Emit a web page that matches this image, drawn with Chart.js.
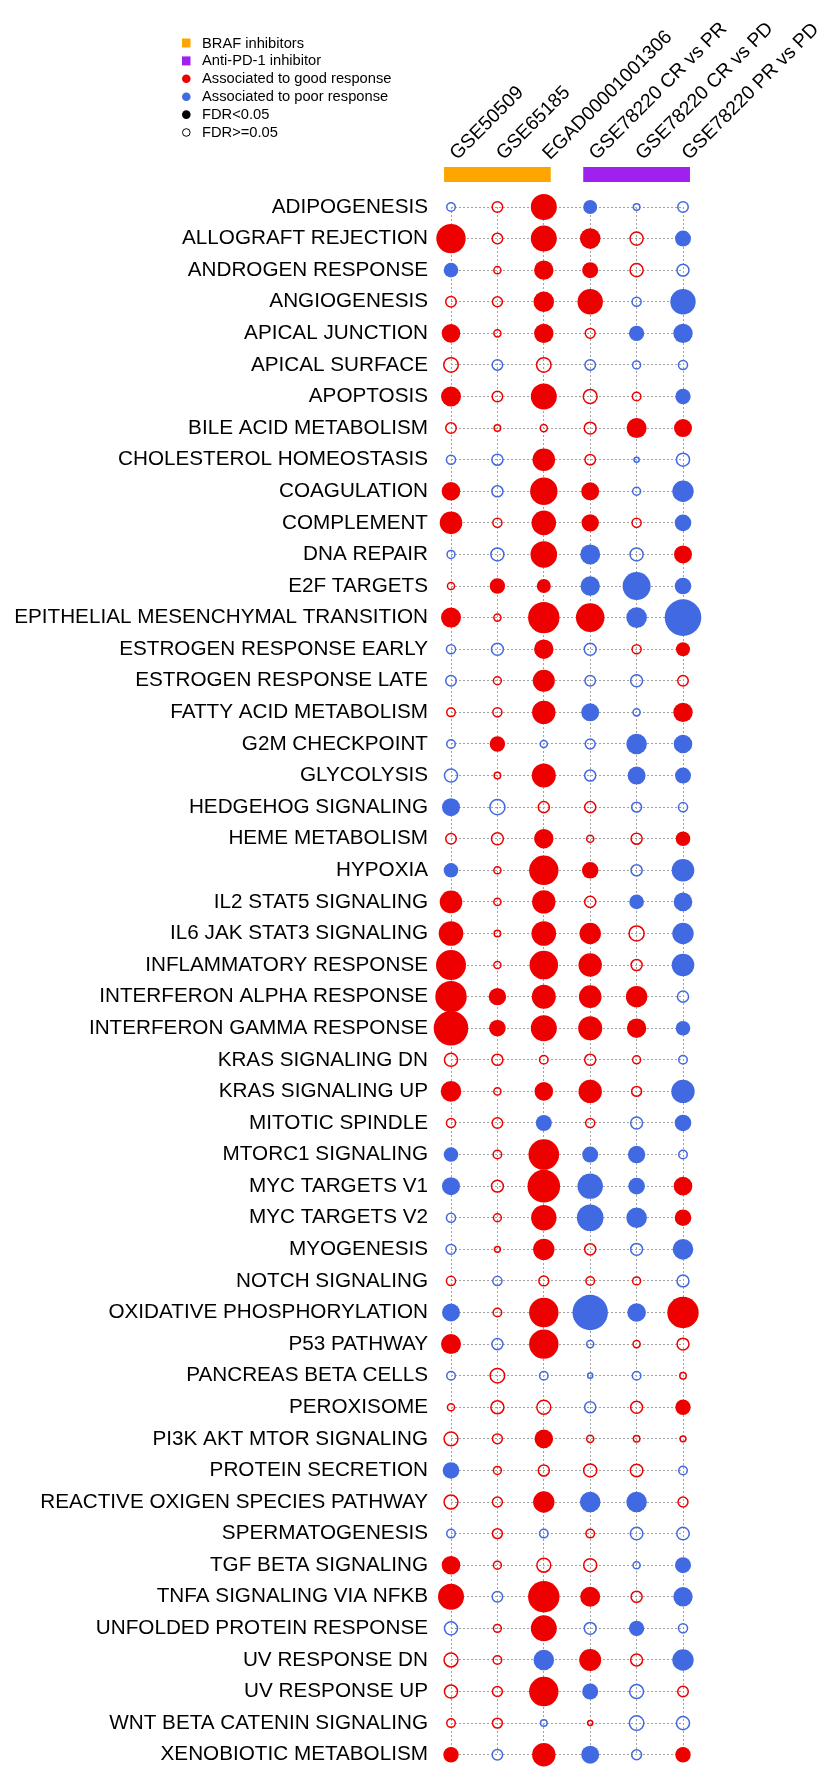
<!DOCTYPE html>
<html>
<head>
<meta charset="utf-8">
<script src="https://cdn.jsdelivr.net/npm/chart.js@4.4.0/dist/chart.umd.min.js"></script>
<style>
html, body { margin: 0; padding: 0; background: #fff; }
#wrap { width: 829px; height: 1773px; }
</style>
</head>
<body>
<div id="wrap"><canvas id="chartHallmarks" width="829" height="1773"></canvas></div>
<script>
var pathways = ['ADIPOGENESIS', 'ALLOGRAFT REJECTION', 'ANDROGEN RESPONSE', 'ANGIOGENESIS', 'APICAL JUNCTION',
  'APICAL SURFACE', 'APOPTOSIS', 'BILE ACID METABOLISM', 'CHOLESTEROL HOMEOSTASIS', 'COAGULATION',
  'COMPLEMENT', 'DNA REPAIR', 'E2F TARGETS', 'EPITHELIAL MESENCHYMAL TRANSITION', 'ESTROGEN RESPONSE EARLY',
  'ESTROGEN RESPONSE LATE', 'FATTY ACID METABOLISM', 'G2M CHECKPOINT', 'GLYCOLYSIS', 'HEDGEHOG SIGNALING',
  'HEME METABOLISM', 'HYPOXIA', 'IL2 STAT5 SIGNALING', 'IL6 JAK STAT3 SIGNALING', 'INFLAMMATORY RESPONSE',
  'INTERFERON ALPHA RESPONSE', 'INTERFERON GAMMA RESPONSE', 'KRAS SIGNALING DN', 'KRAS SIGNALING UP', 'MITOTIC SPINDLE',
  'MTORC1 SIGNALING', 'MYC TARGETS V1', 'MYC TARGETS V2', 'MYOGENESIS', 'NOTCH SIGNALING',
  'OXIDATIVE PHOSPHORYLATION', 'P53 PATHWAY', 'PANCREAS BETA CELLS', 'PEROXISOME', 'PI3K AKT MTOR SIGNALING',
  'PROTEIN SECRETION', 'REACTIVE OXIGEN SPECIES PATHWAY', 'SPERMATOGENESIS', 'TGF BETA SIGNALING', 'TNFA SIGNALING VIA NFKB',
  'UNFOLDED PROTEIN RESPONSE', 'UV RESPONSE DN', 'UV RESPONSE UP', 'WNT BETA CATENIN SIGNALING', 'XENOBIOTIC METABOLISM'];

var cohorts = ['GSE50509', 'GSE65185', 'EGAD00001001306', 'GSE78220 CR vs PR', 'GSE78220 CR vs PD', 'GSE78220 PR vs PD'];

// enrichment score per pathway, > 0 good response, < 0 poor response
var gse50509 = [-5, 14.7, -7.3, 6, 9.3, 8, 10, 6, -5.3, 9.3,
  11.3, -4.7, 4.3, 10, -5.3, -6, 5, -5, -7.3, -9,
  6, -7.3, 11.3, 12.3, 15, 15.7, 17.3, 7.3, 10.3, 5.3,
  -7.3, -9, -5.3, -5.7, 5.3, -9, 10, -5, 4.3, 7.7,
  -8.3, 7.7, -5, 9.3, 13, -7.3, 7.7, 7.3, 5, 7.7];
var gse65185 = [6, 6, 4.3, 5.7, 4.3, -6, 6, 4, -6.3, -6.3,
  5.3, -7.3, 7.7, 4.3, -6.7, 4.7, 5.3, 7.7, 4, -8.3,
  6.7, 4.3, 4.3, 4, 4.3, 8.7, 8.3, 6.3, 4.3, 6,
  5, 6.7, 4.7, 3.7, -5.3, 5, -6.3, 8, 7.3, 5.7,
  4.7, 5.7, 5.7, 4.7, -6, 4.7, 5, 5.7, 5.7, -6];
var egad = [13, 13, 9.7, 10.3, 9.7, 8, 13, 4.3, 11.3, 13.7,
  12.3, 13.3, 7, 15.7, 9.7, 11, 11.7, -4.3, 12, 6.3,
  9.7, 14.7, 11.7, 12.3, 14.3, 12, 13, 5, 9.3, -8,
  15.3, 16.3, 12.7, 10.7, 5.7, 14.7, 14.7, -5, 7.7, 9.3,
  6.3, 10.7, -5, 7.7, 15.7, 13, -10.3, 14.7, -4, 11.7];
var crVsPr = [-7, 10.3, 8, 12.7, 5.7, -6, 7.7, 6.7, 6, 9,
  8.7, -10, -9.7, 14.3, -6.7, -6, -9, -5.7, -6.3, 6.3,
  4.3, 8.3, 6.3, 10.7, 11.7, 11.3, 12, 6.3, 11.7, 5.3,
  -8, -12.7, -13.3, 6.3, 5, -17.7, -4.3, -3.3, -6.3, 4.3,
  7.3, -10.3, 5, 7.3, 10, -6.7, 11, -8, 3.3, -9];
var crVsPd = [-4, 7.3, 7.3, -5.3, -7.7, -4.7, 5, 10, -3.3, -4.7,
  5.3, -7.3, -14, -10.3, 5.3, -6.7, -4.3, -10.3, -9, -5.7,
  6.3, -6.3, -7.3, 8.3, 6.3, 10.7, 9.7, 4.7, 5.7, -6.7,
  -8.7, -8.3, -10.3, -6.7, 4.7, -9.3, 4.3, -5, 6.7, 4,
  7, -10.3, -7, -4.3, 6.3, -7.7, 6.7, -7.7, -8, -5.7];
var prVsPd = [-6, -8, -6.7, -12.7, -9.7, -5.3, -7.7, 9, -7.3, -10.7,
  -8.3, 9, -8.3, -18.3, 7, 6, 9.7, -9.3, -8, -5.3,
  7.3, -11.3, -9.3, -10.7, -11.3, -6.3, -7.3, -5, -11.7, -8.3,
  -5, 9.3, 8.3, -10.3, -6.7, 15.7, 6.7, 4, 7.7, 3.7,
  -5, 5.7, -7, -8, -9.7, -5.3, -10.7, 6, -7.3, 7.7];

// 1 = FDR<0.05, 0 = FDR>=0.05
var fdr50509 = '0110101001' + '1001000001' + '0111111010' + '1100011000' + '1001100001';
var fdr65185 = '0000000000' + '0010000100' + '0000011000' + '0000000000' + '0000000000';
var fdrEgad  = '1111101011' + '1111111010' + '1111111011' + '1111011001' + '0100111101';
var fdrCrPr  = '1111000001' + '1111001000' + '0101111010' + '1110010000' + '0100101101';
var fdrCrPd  = '0000100100' + '0011000110' + '0010011000' + '1110010000' + '0100010000';
var fdrPrPd  = '0101101101' + '1111101110' + '1111101011' + '0111010010' + '0001101001';

var treatments = ['BRAF inhibitors', 'Anti-PD-1 inhibitor'];
var treatmentFirst = [0, 3];
var treatmentLast = [2, 5];

var RED = '#ee0000', BLUE = '#4169e1';
var treatmentColors = ['#ffa500', '#a020f0'];
var FONT = "'Liberation Sans', Arial, sans-serif";

var scoreCols = [gse50509, gse65185, egad, crVsPr, crVsPd, prVsPd];
var fdrCols = [fdr50509, fdr65185, fdrEgad, fdrCrPr, fdrCrPd, fdrPrPd];

var points = [];
scoreCols.forEach(function (col, j) {
  col.forEach(function (v, i) {
    var sig = fdrCols[j].charAt(i) === '1';
    points.push({ x: cohorts[j], y: pathways[i], r: sig ? Math.abs(v) : Math.abs(v) - 0.75, v: v, sig: sig });
  });
});

// orange / purple bars above the columns
var treatmentBars = {
  id: 'treatmentBars',
  afterDraw: function (chart) {
    var c = chart.ctx, xs = chart.scales.x, top = chart.chartArea.top;
    var half = 0.15 * (xs.getPixelForValue(1) - xs.getPixelForValue(0));
    c.save();
    treatments.forEach(function (t, k) {
      var x0 = xs.getPixelForValue(treatmentFirst[k]) - half;
      var x1 = xs.getPixelForValue(treatmentLast[k]) + half;
      c.fillStyle = treatmentColors[k];
      c.fillRect(x0, top - 40, x1 - x0, 15);
    });
    c.restore();
  }
};

var legendBox = {
  id: 'legendBox',
  afterDraw: function (chart) {
    var c = chart.ctx;
    var items = [
      { text: treatments[0], kind: 'sq', color: treatmentColors[0] },
      { text: treatments[1], kind: 'sq', color: treatmentColors[1] },
      { text: 'Associated to good response', kind: 'dot', color: RED },
      { text: 'Associated to poor response', kind: 'dot', color: BLUE },
      { text: 'FDR<0.05', kind: 'dot', color: '#000' },
      { text: 'FDR>=0.05', kind: 'ring', color: '#000' }
    ];
    c.save();
    c.font = '14.7px ' + FONT;
    c.textBaseline = 'middle';
    items.forEach(function (it, k) {
      var y = 43 + k * 17.9;
      if (it.kind === 'sq') {
        c.fillStyle = it.color;
        c.fillRect(182, y - 4.5, 8.5, 9);
      } else {
        c.beginPath();
        c.arc(186.3, y, it.kind === 'ring' ? 3.8 : 4.3, 0, Math.PI * 2);
        if (it.kind === 'ring') { c.strokeStyle = it.color; c.lineWidth = 1; c.stroke(); }
        else { c.fillStyle = it.color; c.fill(); }
      }
      c.fillStyle = '#000';
      c.fillText(it.text, 202, y + 0.5);
    });
    c.restore();
  }
};

var ctx = document.getElementById('chartHallmarks').getContext('2d');
var chartHallmarks = new Chart(ctx, {
  type: 'bubble',
  data: {
    datasets: [{
      data: points,
      clip: false,
      backgroundColor: function (c) { var p = c.raw; return p.sig ? (p.v > 0 ? RED : BLUE) : 'rgba(0,0,0,0)'; },
      borderColor: function (c) { var p = c.raw; return p.v > 0 ? RED : BLUE; },
      borderWidth: function (c) { return c.raw.sig ? 0 : 1.5; }
    }]
  },
  options: {
    responsive: false,
    animation: false,
    events: [],
    layout: { padding: { top: 0, left: 0, right: 146, bottom: 11 } },
    plugins: { legend: { display: false }, tooltip: { enabled: false } },
    scales: {
      x: {
        type: 'category',
        labels: cohorts,
        position: 'top',
        offset: false,
        grid: { color: '#a0a0a0', lineWidth: 1, drawTicks: false, offset: false },
        border: { display: false, dash: [2, 2] },
        ticks: {
          autoSkip: false, minRotation: 45, maxRotation: 45, padding: 42, labelOffset: 19,
          color: '#000', font: { family: FONT, size: 19.4 }
        },
        afterFit: function (s) { s.height = 207; s.paddingLeft = 0; s.paddingRight = 0; }
      },
      y: {
        type: 'category',
        labels: pathways,
        offset: false,
        grid: { color: '#a0a0a0', lineWidth: 1, drawTicks: false, offset: false },
        border: { display: false, dash: [2, 2] },
        ticks: {
          autoSkip: false, padding: 23,
          color: '#000', font: { family: FONT, size: 20.7 }
        },
        afterFit: function (s) { s.width = 451; s.paddingTop = 0; s.paddingBottom = 0; }
      }
    }
  },
  plugins: [treatmentBars, legendBox]
});
</script>
</body>
</html>
